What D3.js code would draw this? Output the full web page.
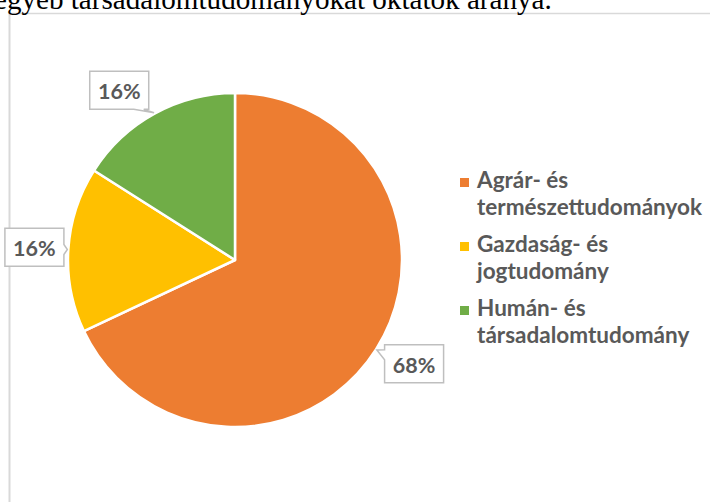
<!DOCTYPE html>
<html>
<head>
<meta charset="utf-8">
<script src="https://cdn.jsdelivr.net/npm/d3@7"></script>
<style>
  html, body { margin: 0; padding: 0; background: #fff; }
  svg { display: block; }
</style>
</head>
<body>
<svg id="chart" width="710" height="502"></svg>
<script>
// ---- data ----
const titleText = "egyéb társadalomtudományokat oktatók aránya.";
const categories = ["Agrár- és természettudományok", "Gazdaság- és jogtudomány", "Humán- és társadalomtudomány"];
const values = [68, 16, 16];
const labelTexts = ["68%", "16%", "16%"];
const colors = ["#ED7D31", "#FFC000", "#70AD47"];

// ---- layout ----
const W = 710, H = 502;
const svg = d3.select("#chart");
const cx = 235, cy = 260, R = 167;
const uiFont = "Lato, 'Open Sans', 'Noto Sans', sans-serif";
const grey = "#595959";

// frame lines
svg.append("line").attr("x1", 9).attr("x2", W).attr("y1", 13.5).attr("y2", 13.5)
  .attr("stroke", "#d9d9d9").attr("stroke-width", 1.5);
svg.append("line").attr("x1", 9.5).attr("x2", 9.5).attr("y1", 13).attr("y2", H)
  .attr("stroke", "#d9d9d9").attr("stroke-width", 2);

// title (cut off at top)
const title = svg.append("text")
  .attr("x", -6).attr("y", 9)
  .attr("font-family", "'Liberation Serif', 'Times New Roman', serif")
  .attr("font-size", 24)
  .attr("fill", "#000")
  .text(titleText);
{
  const target = 558;
  const len = title.node().getComputedTextLength();
  title.attr("font-size", 24 * target / len);
}

// pie
const pie = d3.pie().sort(null).value(d => d)(values);
const arc = d3.arc().innerRadius(0).outerRadius(R);
const g = svg.append("g").attr("transform", `translate(${cx},${cy})`);
g.selectAll("path.slice").data(pie).join("path")
  .attr("class", "slice")
  .attr("d", arc)
  .attr("fill", (d, i) => colors[i])
  .attr("stroke", "#fff")
  .attr("stroke-width", 2.5)
  .attr("stroke-linejoin", "round");

// callout labels
const boxW = 59, boxH = 38;
const labelR = 205;
const nudges = [[6, -6], [4, 0], [-17, 10]];
pie.forEach((d, i) => {
  const a = (d.startAngle + d.endAngle) / 2;
  const ux = Math.sin(a), uy = -Math.cos(a);
  const tipX = cx + ux * (R + 1), tipY = cy + uy * (R + 1);
  const lx = cx + ux * labelR + nudges[i][0];
  const ly = cy + uy * labelR + nudges[i][1];
  const L = lx - boxW / 2, T = ly - boxH / 2, Rt = lx + boxW / 2, B = ly + boxH / 2;
  const clamp = (v, lo, hi) => Math.max(lo, Math.min(hi, v));
  let p;
  const hw = 5;
  if (tipY > B) {
    const bx = clamp(tipX, L + 10, Rt - 10);
    p = [[L, T], [Rt, T], [Rt, B], [bx + hw, B], [tipX, tipY], [bx - hw, B], [L, B]];
  } else if (tipY < T) {
    const bx = clamp(tipX, L + 10, Rt - 10);
    p = [[L, T], [bx - hw, T], [tipX, tipY], [bx + hw, T], [Rt, T], [Rt, B], [L, B]];
  } else if (tipX < L) {
    const by = clamp(tipY, T + 10, B - 10);
    p = [[L, T], [Rt, T], [Rt, B], [L, B], [L, by + hw], [tipX, tipY], [L, by - hw]];
  } else {
    const by = clamp(tipY, T + 10, B - 10);
    p = [[L, T], [Rt, T], [Rt, by - hw], [tipX, tipY], [Rt, by + hw], [Rt, B], [L, B]];
  }
  svg.append("path")
    .attr("d", d3.line()(p) + "Z")
    .attr("fill", "#fff")
    .attr("stroke", "#bfbfbf")
    .attr("stroke-width", 1.5)
    .attr("stroke-linejoin", "miter");
  svg.append("text")
    .attr("x", lx).attr("y", ly + 1)
    .attr("text-anchor", "middle")
    .attr("dominant-baseline", "central")
    .attr("font-family", uiFont)
    .attr("font-weight", "bold")
    .attr("font-size", 21.5)
    .attr("fill", grey)
    .text(labelTexts[i]);
});

// legend
const legX = 460, legTextX = 477, legY0 = 188, lineH = 27, groupH = 64;
let legFont = 19;
{
  const t = svg.append("text").attr("font-family", uiFont).attr("font-weight", "bold")
    .attr("font-size", 20).text("természettudományok");
  const w = t.node().getComputedTextLength();
  legFont = 20 * 225 / w;
  t.remove();
}
const measure = svg.append("text").attr("font-family", uiFont).attr("font-weight", "bold")
  .attr("font-size", legFont);
function wrap(str, maxW) {
  const words = str.split(" ");
  const lines = [];
  let cur = "";
  words.forEach(w => {
    const test = cur ? cur + " " + w : w;
    measure.text(test);
    if (measure.node().getComputedTextLength() > maxW && cur) {
      lines.push(cur); cur = w;
    } else cur = test;
  });
  if (cur) lines.push(cur);
  return lines;
}
categories.forEach((c, i) => {
  const y = legY0 + i * groupH;
  svg.append("rect").attr("x", legX).attr("y", y - 10).attr("width", 9).attr("height", 9)
    .attr("fill", colors[i]);
  const lines = wrap(c, 228);
  const t = svg.append("text").attr("font-family", uiFont).attr("font-weight", "bold")
    .attr("font-size", legFont).attr("fill", grey);
  lines.forEach((ln, j) => {
    t.append("tspan").attr("x", legTextX).attr("y", y + j * lineH).text(ln);
  });
});
measure.remove();
</script>
</body>
</html>
